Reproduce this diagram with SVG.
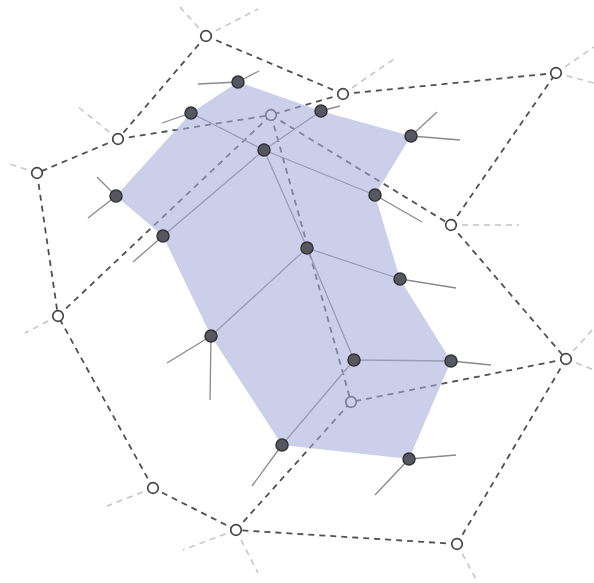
<svg xmlns="http://www.w3.org/2000/svg" width="594" height="583" viewBox="0 0 594 583">
<style>
.d{stroke:#505050;stroke-width:1.8;stroke-dasharray:6 5;fill:none}
.f{stroke:#c4c4c4;stroke-width:1.5;stroke-dasharray:6 5;fill:none}
.s{stroke:#8a8a8a;stroke-width:1.3;fill:none}
.on{fill:#fff;stroke:#444;stroke-width:1.7}
.dn{fill:#555860;stroke:#333;stroke-width:1.5}
.poly{fill:#a3aad9;fill-opacity:0.57;stroke:none}
</style>
<rect width="594" height="583" fill="#fff"/>
<g id="connectors">
<g id="voronoi-edges">
<line class="d" x1="206" y1="36" x2="118" y2="139"/>
<line class="d" x1="206" y1="36" x2="343" y2="94"/>
<line class="d" x1="343" y1="94" x2="556" y2="73"/>
<line class="d" x1="343" y1="94" x2="271" y2="115"/>
<line class="d" x1="118" y1="139" x2="271" y2="115"/>
<line class="d" x1="118" y1="139" x2="37" y2="173"/>
<line class="d" x1="37" y1="173" x2="58" y2="316"/>
<line class="d" x1="58" y1="316" x2="271" y2="115"/>
<line class="d" x1="271" y1="115" x2="351" y2="402"/>
<line class="d" x1="271" y1="115" x2="451" y2="225"/>
<line class="d" x1="451" y1="225" x2="556" y2="73"/>
<line class="d" x1="451" y1="225" x2="566" y2="359"/>
<line class="d" x1="566" y1="359" x2="351" y2="402"/>
<line class="d" x1="566" y1="359" x2="457" y2="544"/>
<line class="d" x1="457" y1="544" x2="236" y2="530"/>
<line class="d" x1="236" y1="530" x2="351" y2="402"/>
<line class="d" x1="236" y1="530" x2="153" y2="488"/>
<line class="d" x1="153" y1="488" x2="58" y2="316"/>
</g>
<g id="voronoi-rays">
<line class="f" x1="206" y1="36" x2="180" y2="7"/>
<line class="f" x1="206" y1="36" x2="258" y2="9"/>
<line class="f" x1="343" y1="94" x2="397" y2="57"/>
<line class="f" x1="556" y1="73" x2="594" y2="47"/>
<line class="f" x1="556" y1="73" x2="594" y2="83"/>
<line class="f" x1="118" y1="139" x2="78" y2="107"/>
<line class="f" x1="37" y1="173" x2="7" y2="163"/>
<line class="f" x1="451" y1="225" x2="519" y2="225"/>
<line class="f" x1="58" y1="316" x2="25" y2="333"/>
<line class="f" x1="566" y1="359" x2="594" y2="328"/>
<line class="f" x1="566" y1="359" x2="594" y2="370"/>
<line class="f" x1="153" y1="488" x2="107" y2="506"/>
<line class="f" x1="236" y1="530" x2="183" y2="550"/>
<line class="f" x1="236" y1="530" x2="258" y2="573"/>
<line class="f" x1="457" y1="544" x2="477" y2="581"/>
</g>
<g id="mesh-edges">
<line class="s" x1="191" y1="113" x2="264" y2="150"/>
<line class="s" x1="264" y1="150" x2="321" y2="111"/>
<line class="s" x1="264" y1="150" x2="163" y2="236"/>
<line class="s" x1="264" y1="150" x2="375" y2="195"/>
<line class="s" x1="264" y1="150" x2="307" y2="248"/>
<line class="s" x1="307" y1="248" x2="400" y2="279"/>
<line class="s" x1="307" y1="248" x2="211" y2="336"/>
<line class="s" x1="307" y1="248" x2="354" y2="360"/>
<line class="s" x1="354" y1="360" x2="451" y2="361"/>
<line class="s" x1="354" y1="360" x2="282" y2="445"/>
</g>
<g id="mesh-rays">
<line class="s" x1="238" y1="82" x2="198" y2="84"/>
<line class="s" x1="238" y1="82" x2="259" y2="71"/>
<line class="s" x1="191" y1="113" x2="162" y2="123"/>
<line class="s" x1="321" y1="111" x2="340" y2="106"/>
<line class="s" x1="411" y1="136" x2="437" y2="112"/>
<line class="s" x1="411" y1="136" x2="460" y2="140"/>
<line class="s" x1="116" y1="196" x2="97" y2="177"/>
<line class="s" x1="116" y1="196" x2="88" y2="218"/>
<line class="s" x1="375" y1="195" x2="422" y2="222"/>
<line class="s" x1="163" y1="236" x2="133" y2="262"/>
<line class="s" x1="400" y1="279" x2="456" y2="288"/>
<line class="s" x1="211" y1="336" x2="167" y2="363"/>
<line class="s" x1="211" y1="336" x2="210" y2="400"/>
<line class="s" x1="451" y1="361" x2="491" y2="365"/>
<line class="s" x1="282" y1="445" x2="252" y2="486"/>
<line class="s" x1="409" y1="459" x2="456" y2="455"/>
<line class="s" x1="409" y1="459" x2="375" y2="495"/>
</g>
</g>
<g id="open-nodes">
<g id="o1"><circle class="on" cx="206" cy="36" r="5.3"/></g>
<g id="o2"><circle class="on" cx="343" cy="94" r="5.3"/></g>
<g id="o3"><circle class="on" cx="556" cy="73" r="5.3"/></g>
<g id="o4"><circle class="on" cx="118" cy="139" r="5.3"/></g>
<g id="o5"><circle class="on" cx="271" cy="115" r="5.3"/></g>
<g id="o6"><circle class="on" cx="37" cy="173" r="5.3"/></g>
<g id="o7"><circle class="on" cx="451" cy="225" r="5.3"/></g>
<g id="o8"><circle class="on" cx="58" cy="316" r="5.3"/></g>
<g id="o9"><circle class="on" cx="566" cy="359" r="5.3"/></g>
<g id="o10"><circle class="on" cx="351" cy="402" r="5.3"/></g>
<g id="o11"><circle class="on" cx="153" cy="488" r="5.3"/></g>
<g id="o12"><circle class="on" cx="236" cy="530" r="5.3"/></g>
<g id="o13"><circle class="on" cx="457" cy="544" r="5.3"/></g>
</g>
<g id="region">
<polygon class="poly" points="116,196 191,113 238,82 321,111 411,136 375,195 400,279 451,361 409,459 282,445 211,336 163,236"/>
</g>
<g id="dark-nodes">
<g id="n1"><circle class="dn" cx="238" cy="82" r="6"/></g>
<g id="n2"><circle class="dn" cx="191" cy="113" r="6"/></g>
<g id="n3"><circle class="dn" cx="321" cy="111" r="6"/></g>
<g id="n4"><circle class="dn" cx="264" cy="150" r="6"/></g>
<g id="n5"><circle class="dn" cx="411" cy="136" r="6"/></g>
<g id="n6"><circle class="dn" cx="116" cy="196" r="6"/></g>
<g id="n7"><circle class="dn" cx="375" cy="195" r="6"/></g>
<g id="n8"><circle class="dn" cx="163" cy="236" r="6"/></g>
<g id="n9"><circle class="dn" cx="307" cy="248" r="6"/></g>
<g id="n10"><circle class="dn" cx="400" cy="279" r="6"/></g>
<g id="n11"><circle class="dn" cx="211" cy="336" r="6"/></g>
<g id="n12"><circle class="dn" cx="354" cy="360" r="6"/></g>
<g id="n13"><circle class="dn" cx="451" cy="361" r="6"/></g>
<g id="n14"><circle class="dn" cx="282" cy="445" r="6"/></g>
<g id="n15"><circle class="dn" cx="409" cy="459" r="6"/></g>
</g>
</svg>
